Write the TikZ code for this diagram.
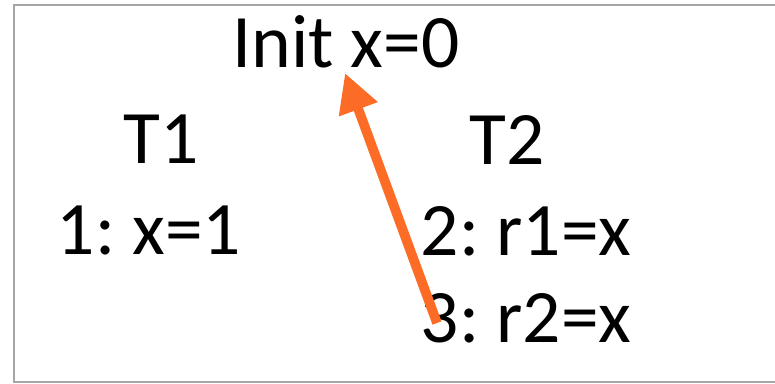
\documentclass[tikz,border=0pt]{standalone}
\usepackage{fontspec}
\setmainfont{Carlito}
\usetikzlibrary{arrows.meta}
\definecolor{arrorange}{RGB}{252,108,38}
\definecolor{framegray}{RGB}{166,166,166}

\begin{document}
\frenchspacing
\begin{tikzpicture}[x=0.02cm, y=-0.02cm,
    lbl/.style={anchor=base, inner sep=0pt, font=\fontsize{43}{50}\selectfont}]
    \useasboundingbox (0,0) rectangle (775,384);
    \draw[framegray, line width=1.1pt] (14,5) rectangle (800,382);

    \node[lbl] (init) at (346,68) {Init x=0};
    \node[lbl] (t1) at (161,164) {T1};
    \node[lbl] (t2) at (507,165) {T2};
    \node[lbl] (s1) at (149,255) {1: x=1};
    \node[lbl] (s2) at (526,256) {2: r1=x};
    \node[lbl] (s3) at (526,343) {3: r2=x};

    \coordinate (rd) at (437,323); \coordinate (initx) at (345,73);
    \draw[arrorange, line width=5.5pt, -{Triangle[length=22pt, width=22pt]}] (rd) -- (initx);
\end{tikzpicture}
\end{document}
